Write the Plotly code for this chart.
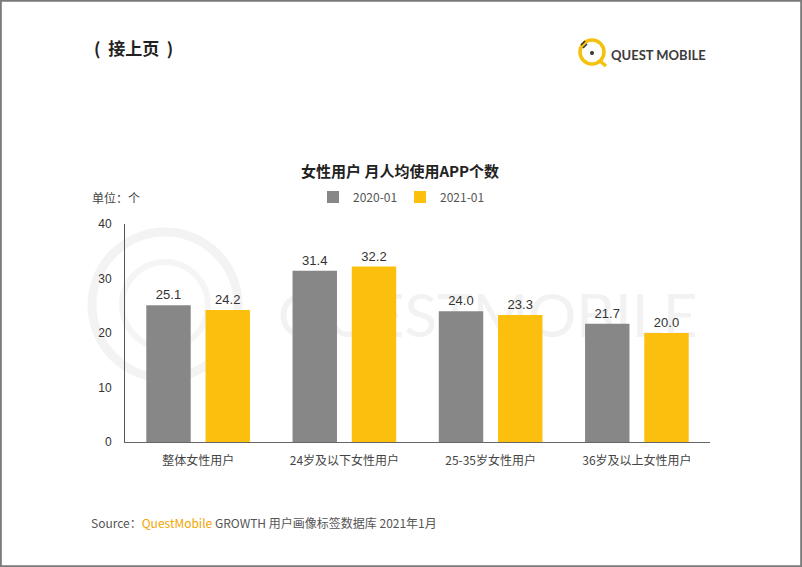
import plotly.graph_objects as go

categories = ["整体女性用户", "24岁及以下女性用户", "25-35岁女性用户", "36岁及以上女性用户"]
series_names = ["2020-01", "2021-01"]
values_2020 = [25.1, 31.4, 24.0, 21.7]
values_2021 = [24.2, 32.2, 23.3, 20.0]
y_ticks = [0, 10, 20, 30, 40]

W, H = 802, 567
L, R, T, B = 125, 92, 224, 125
PW, PH = W - L - R, H - T - B

def px(x):
    return (x - L) / PW

def py(y):
    return (H - B - y) / PH

FONT = "Noto Sans CJK SC, Noto Sans, sans-serif"

fig = go.Figure()
fig.add_trace(go.Bar(
    x=categories, y=values_2020, name=series_names[0],
    marker=dict(color="#878787", line=dict(width=0)),
    text=[f"{v:.1f}" for v in values_2020], textposition="outside",
    textfont=dict(size=13, color="#333333", family="Liberation Sans, Arial"),
    cliponaxis=False,
))
fig.add_trace(go.Bar(
    x=categories, y=values_2021, name=series_names[1],
    marker=dict(color="#fcbf0e", line=dict(width=0)),
    text=[f"{v:.1f}" for v in values_2021], textposition="outside",
    textfont=dict(size=13, color="#333333", family="Liberation Sans, Arial"),
    cliponaxis=False,
))

shapes = [
    # page border
    dict(type="rect", xref="paper", yref="paper", x0=px(0.8), x1=px(801.2), y0=py(566.2), y1=py(0.8),
         line=dict(color="#7a7a7a", width=2), fillcolor="rgba(0,0,0,0)", layer="above"),
    # watermark ring
    dict(type="circle", xref="paper", yref="paper", x0=px(92), x1=px(238), y0=py(378), y1=py(232),
         line=dict(color="#f3f3f3", width=9), layer="below"),
    dict(type="circle", xref="paper", yref="paper", x0=px(122), x1=px(208), y0=py(348), y1=py(262),
         line=dict(color="#f5f5f5", width=6), layer="below"),
    # watermark text
    dict(type="rect", xref="paper", yref="paper", x0=px(255), x1=px(720), y0=py(345), y1=py(280),
         line=dict(width=0), fillcolor="rgba(0,0,0,0)", layer="below",
         label=dict(text="QUESTMOBILE", font=dict(size=60, color="#f2f2f2", family="Lato, sans-serif"),
                    textposition="middle center")),
    # logo ring
    dict(type="circle", xref="paper", yref="paper", x0=px(580), x1=px(604), y0=py(64), y1=py(40),
         line=dict(color="#f4c20d", width=3.5), layer="above"),
    dict(type="circle", xref="paper", yref="paper", x0=px(590), x1=px(594), y0=py(55), y1=py(51),
         fillcolor="#333333", line=dict(width=0), layer="above"),
    dict(type="line", xref="paper", yref="paper", x0=px(581), x1=px(585), y0=py(45), y1=py(41),
         line=dict(color="#333333", width=1.6), layer="above"),
    dict(type="line", xref="paper", yref="paper", x0=px(583), x1=px(587), y0=py(48), y1=py(44),
         line=dict(color="#333333", width=1.6), layer="above"),
    dict(type="line", xref="paper", yref="paper", x0=px(600), x1=px(606), y0=py(61), y1=py(66),
         line=dict(color="#f4c20d", width=3.5), layer="above"),
]

annotations = [
    dict(text="<b>(  接上页  )</b>", x=px(92), y=py(47), xref="paper", yref="paper", xanchor="left", yanchor="middle",
         showarrow=False, font=dict(size=17, color="#222222", family=FONT)),
    dict(text="<b>QUEST MOBILE</b>", x=px(609), y=py(55), xref="paper", yref="paper", xanchor="left", yanchor="middle",
         showarrow=False, font=dict(size=13, color="#3b3b3b", family="Lato, sans-serif")),
    dict(text="<b>女性用户 月人均使用APP个数</b>", x=px(400), y=py(170), xref="paper", yref="paper",
         xanchor="center", yanchor="middle", showarrow=False, font=dict(size=15, color="#222222", family=FONT)),
    dict(text="单位：个", x=px(90), y=py(197), xref="paper", yref="paper", xanchor="left", yanchor="middle",
         showarrow=False, font=dict(size=12, color="#444444", family=FONT)),
    dict(text="Source：<span style='color:#f0a500'>QuestMobile</span> GROWTH 用户画像标签数据库 2021年1月",
         x=px(89), y=py(522), xref="paper", yref="paper", xanchor="left", yanchor="middle",
         showarrow=False, font=dict(size=12, color="#555555", family=FONT)),
]

fig.update_layout(
    width=W, height=H,
    margin=dict(l=L, r=R, t=T, b=B, pad=0),
    paper_bgcolor="white", plot_bgcolor="rgba(0,0,0,0)",
    barmode="group", bargap=0.19, bargroupgap=0.25,
    showlegend=True,
    legend=dict(orientation="h", x=px(400), xanchor="center", y=py(197), yanchor="middle",
                font=dict(size=12, color="#555555", family=FONT), itemwidth=30,
                entrywidth=42, bgcolor="rgba(0,0,0,0)", traceorder="normal"),
    font=dict(family=FONT, color="#333333"),
    shapes=shapes, annotations=annotations,
    xaxis=dict(showline=True, linecolor="#666666", linewidth=1, showgrid=False, ticks="",
               ticklabelstandoff=8,
               tickfont=dict(size=12, color="#444444", family=FONT), zeroline=False),
    yaxis=dict(range=[0, 40], tickvals=y_ticks, showline=True, linecolor="#555555", linewidth=1,
               showgrid=False, zeroline=False, ticks="", ticklabelstandoff=10,
               tickfont=dict(size=12, color="#333333", family="Liberation Sans, Arial")),
)

fig.write_html("out.html", config={"displayModeBar": False},
               post_script="document.body.style.margin='0';document.body.style.overflow='hidden';")
